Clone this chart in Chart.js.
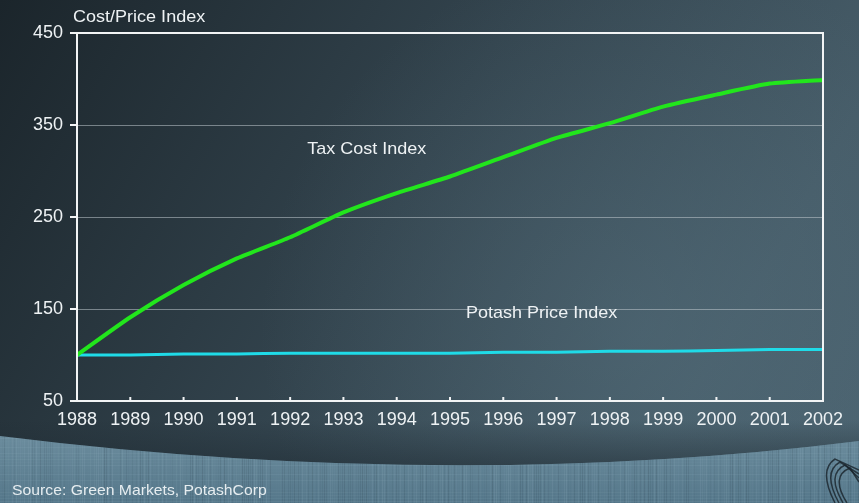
<!DOCTYPE html>
<html>
<head>
<meta charset="utf-8">
<script src="https://cdn.jsdelivr.net/npm/chart.js@4"></script>
<style>
  html, body { margin: 0; padding: 0; background: #2b3a43; }
  #wrap { width: 859px; height: 503px; }
</style>
</head>
<body>
<div id="wrap"><canvas id="indexChart" width="859" height="503"></canvas></div>
<script>
// Tax cost vs potash price, indexed to 1988 = 100
const years = ['1988', '1989', '1990', '1991', '1992', '1993', '1994', '1995',
               '1996', '1997', '1998', '1999', '2000', '2001', '2002'];
const taxCostIndex = [100, 141, 176, 205, 228, 255, 276, 294, 315, 336, 352, 370, 383, 395, 399];
const potashPriceIndex = [100, 100, 101, 101, 102, 102, 102, 102, 103, 103, 104, 104, 105, 106, 106];
const yTicks = [50, 150, 250, 350, 450];

const FONT = '"Liberation Sans", Arial, sans-serif';

// slightly widened text, like the rest of the slide lettering
function wideText(ctx, text, x, y, size, stretch) {
    ctx.save();
    ctx.font = size + 'px ' + FONT;
    ctx.textBaseline = 'middle';
    ctx.translate(x, y);
    ctx.scale(stretch, 1);
    ctx.fillText(text, 0, 0);
    ctx.restore();
}

// gradient backdrop and the textured strip along the bottom
const backdrop = {
    id: 'backdrop',
    beforeDraw(chart) {
        const { ctx, width, height } = chart;
        ctx.save();
        const g = ctx.createLinearGradient(0, 0, width, height);
        g.addColorStop(0, '#1b252b');
        g.addColorStop(0.45, '#33444e');
        g.addColorStop(0.8, '#465c68');
        g.addColorStop(1, '#4b6370');
        ctx.fillStyle = g;
        ctx.fillRect(0, 0, width, height);

        const r = ctx.createRadialGradient(640, 330, 10, 640, 330, 380);
        r.addColorStop(0, 'rgba(90,118,132,0.35)');
        r.addColorStop(1, 'rgba(90,118,132,0)');
        ctx.fillStyle = r;
        ctx.fillRect(0, 0, width, height);

        // shadow above the strip
        ctx.beginPath();
        ctx.moveTo(0, 420);
        ctx.lineTo(width, 420);
        ctx.lineTo(width, 441);
        ctx.quadraticCurveTo(450, 492, 0, 436);
        ctx.closePath();
        const sh = ctx.createLinearGradient(0, 420, 0, 468);
        sh.addColorStop(0, 'rgba(30,42,50,0)');
        sh.addColorStop(1, 'rgba(30,42,50,0.55)');
        ctx.fillStyle = sh;
        ctx.fill();

        // strip
        ctx.beginPath();
        ctx.moveTo(0, 436);
        ctx.quadraticCurveTo(450, 492, width, 441);
        ctx.lineTo(width, height);
        ctx.lineTo(0, height);
        ctx.closePath();
        ctx.save();
        ctx.clip();
        const sg = ctx.createLinearGradient(0, 436, 0, height);
        sg.addColorStop(0, '#6b8c9d');
        sg.addColorStop(1, '#55778a');
        ctx.fillStyle = sg;
        ctx.fillRect(0, 430, width, height - 430);
        for (let x = 0; x < width; x += 2) {
            const a = Math.abs(Math.sin(x * 12.9898) * 43758.5453) % 1;
            ctx.fillStyle = a > 0.5 ? 'rgba(150,180,195,' + (a - 0.5) * 0.35 + ')'
                                    : 'rgba(40,60,72,' + a * 0.35 + ')';
            ctx.fillRect(x, 430, 1, height - 430);
        }
        for (let y = 432; y < height; y += 3) {
            const a = Math.abs(Math.sin(y * 78.233) * 12345.678) % 1;
            ctx.fillStyle = 'rgba(160,190,205,' + a * 0.12 + ')';
            ctx.fillRect(0, y, width, 1);
        }
        // emblem corner
        ctx.strokeStyle = 'rgba(25,35,42,0.8)';
        ctx.lineWidth = 1.5;
        for (let i = 0; i < 4; i++) {
            ctx.beginPath();
            ctx.moveTo(835 + i * 4, 503);
            ctx.quadraticCurveTo(818 + i * 4, 470 + i * 2, 835 + i * 5, 459 + i * 3);
            ctx.lineTo(859, 470 + i * 4);
            ctx.stroke();
        }
        ctx.restore();

        ctx.fillStyle = '#e6edf0';
        wideText(ctx, 'Source: Green Markets, PotashCorp', 12, 491, 15, 1.05);
        ctx.restore();
    }
};

// frame, tick marks, axis title and series labels
const annotations = {
    id: 'annotations',
    afterDraw(chart) {
        const { ctx, chartArea: a, scales: { x, y } } = chart;
        ctx.save();
        ctx.strokeStyle = '#f2f4f5';
        ctx.lineWidth = 2;
        ctx.strokeRect(a.left, a.top, a.right - a.left, a.bottom - a.top);

        ctx.beginPath();
        yTicks.forEach(v => {
            const py = y.getPixelForValue(v);
            ctx.moveTo(a.left - 7, py);
            ctx.lineTo(a.left, py);
        });
        years.forEach((_, i) => {
            const px = x.getPixelForValue(i);
            ctx.moveTo(px, a.bottom);
            ctx.lineTo(px, a.bottom - 4);
        });
        ctx.stroke();

        ctx.fillStyle = '#eef2f4';
        wideText(ctx, 'Cost/Price Index', 73, 17, 17, 1.06);
        wideText(ctx, 'Tax Cost Index', x.getPixelForValue(4.32), y.getPixelForValue(324), 17, 1.06);
        wideText(ctx, 'Potash Price Index', x.getPixelForValue(7.3), y.getPixelForValue(145.5), 17, 1.06);
        ctx.restore();
    }
};

new Chart(document.getElementById('indexChart'), {
    type: 'line',
    data: {
        labels: years,
        datasets: [{
            label: 'Tax Cost Index',
            data: taxCostIndex,
            borderColor: '#22e61c',
            borderWidth: 4,
            pointRadius: 0,
            tension: 0.2,
        }, {
            label: 'Potash Price Index',
            data: potashPriceIndex,
            borderColor: '#1fdbe8',
            borderWidth: 3,
            pointRadius: 0,
            tension: 0.2,
        }]
    },
    plugins: [backdrop, annotations],
    options: {
        responsive: false,
        animation: false,
        layout: { padding: { top: 33, right: 36, bottom: 0, left: 0 } },
        plugins: {
            legend: { display: false },
            tooltip: { enabled: false },
        },
        scales: {
            x: {
                offset: false,
                afterFit: s => { s.height = 102; },
                border: { display: false },
                grid: { display: false, drawTicks: false },
                ticks: {
                    color: '#eef2f4',
                    font: { family: FONT, size: 18 },
                    padding: 8,
                    maxRotation: 0,
                    autoSkip: false,
                },
            },
            y: {
                min: 50,
                max: 450,
                afterFit: s => { s.width = 77; },
                afterBuildTicks: s => { s.ticks = yTicks.map(v => ({ value: v })); },
                border: { display: false },
                grid: {
                    drawTicks: false,
                    lineWidth: 1,
                    color: c => (c.tick && c.tick.value > 50 && c.tick.value < 450)
                        ? 'rgba(190,198,204,0.55)' : 'rgba(0,0,0,0)',
                },
                ticks: {
                    color: '#eef2f4',
                    font: { family: FONT, size: 18 },
                    padding: 14,
                },
            }
        }
    }
});
</script>
</body>
</html>
